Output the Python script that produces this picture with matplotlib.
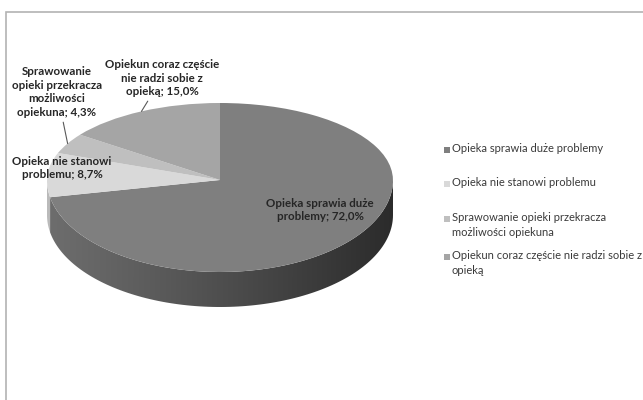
import numpy as np
import matplotlib.pyplot as plt
from matplotlib.patches import Polygon, Rectangle
from matplotlib.colors import to_rgb

plt.rcParams['font.family'] = ['Lato', 'DejaVu Sans']

# dane wykresu
shares = [72.0, 8.7, 4.3, 15.0]
colors = ['#7f7f7f', '#d9d9d9', '#bfbfbf', '#a5a5a5']
pie_labels = ['Opieka sprawia duże\nproblemy; 72,0%',
              'Opieka nie stanowi\nproblemu; 8,7%',
              'Sprawowanie\nopieki przekracza\nmożliwości\nopiekuna; 4,3%',
              'Opiekun coraz częście\nnie radzi sobie z\nopieką; 15,0%']
legend_labels = ['Opieka sprawia duże problemy',
                 'Opieka nie stanowi problemu',
                 'Sprawowanie opieki przekracza\nmożliwości opiekuna',
                 'Opiekun coraz częście nie radzi sobie z\nopieką']

W, H = 643, 400
fig = plt.figure(figsize=(W / 100, H / 100), dpi=100)
ax = fig.add_axes([0, 0, 1, 1])

# środek koła i półosie w pikselach; tylna połowa krótsza (perspektywa)
cx, cy = 220, 180
rx, ry_back, ry_front = 173, 77, 92
depth = 35 / ry_front


def fwd(y):
    y = np.asarray(y, dtype=float)
    return np.where(y > 0, y * ry_back, y * ry_front)


def inv(v):
    v = np.asarray(v, dtype=float)
    return np.where(v > 0, v / ry_back, v / ry_front)


def px(x, y):
    return (x - cx) / rx, float(inv(cy - y))


wedges, _ = ax.pie(shares, colors=colors, startangle=90, counterclock=False,
                   wedgeprops=dict(linewidth=0), radius=1)
for w in wedges:
    w.set_zorder(3)

ax.set_aspect('auto')
ax.set_yscale('function', functions=(fwd, inv))

# boczna ściana - tylko widoczna (przednia) część każdego wycinka
for w, col in zip(wedges, colors):
    t1, t2 = w.theta1, w.theta2
    for lo, hi in [(-180, 0), (180, 360), (-540, -360)]:
        a, b = max(t1, lo), min(t2, hi)
        if b <= a:
            continue
        t = np.radians(np.linspace(a, b, 120))
        top = np.column_stack([np.cos(t), np.sin(t)])
        bot = top[::-1] - [0, depth]
        poly = Polygon(np.vstack([top, bot]), closed=True, fill=False,
                       linewidth=0, transform=ax.transData)
        ax.add_patch(poly)
        xs = np.linspace(0, 1, 300)
        f = 0.86 - 0.52 * xs ** 1.1
        rgb = np.array(to_rgb(col))
        img = np.clip(f[:, None] * rgb[None, :], 0, 1)[None, :, :].repeat(2, axis=0)
        im = ax.imshow(img, extent=(-1, 1, -1 - depth, -0.001), aspect='auto',
                       interpolation='bilinear', zorder=2)
        im.set_clip_path(poly)

ax.set_aspect('auto')
ax.set_xlim(-cx / rx, (W - cx) / rx)
ax.set_ylim(float(inv(-(H - cy))), float(inv(cy)))
ax.set_axis_off()

# etykiety danych
label_pos = [(320, 210), (62, 168), (57, 92), (162, 78)]
leader = [False, False, True, True]
for w, lab, (lx, ly), lead in zip(wedges, pie_labels, label_pos, leader):
    mid = np.radians((w.theta1 + w.theta2) / 2)
    tx, ty = px(lx, ly)
    if lead:
        ax.annotate(lab, xy=(np.cos(mid), np.sin(mid)), xytext=(tx, ty),
                    ha='center', va='center', fontsize=8.3, fontweight='bold',
                    color='#262626', linespacing=1.3, zorder=5,
                    arrowprops=dict(arrowstyle='-', color='#595959', lw=0.8,
                                    shrinkA=1, shrinkB=0))
    else:
        ax.text(tx, ty, lab, ha='center', va='center', fontsize=8.3,
                fontweight='bold', color='#262626', linespacing=1.3, zorder=5)

# legenda
leg_y = [150, 184, 219, 257]
for lab, col, y in zip(legend_labels, colors, leg_y):
    fig.add_artist(Rectangle((444 / W, 1 - (y + 3) / H), 6 / W, 6 / H,
                             transform=fig.transFigure, facecolor=col,
                             edgecolor='none'))
    fig.text(452 / W, 1 - (y - 7) / H, lab, ha='left', va='top', fontsize=8,
             color='#3a3a3a', linespacing=1.45)

# ramka obszaru wykresu
fig.add_artist(Rectangle((6 / W, -0.1), 1.2, 1.1 - 12 / H,
                         transform=fig.transFigure, fill=False,
                         edgecolor='#b3b3b3', lw=1.2))

fig.savefig('out.png', dpi=100)
